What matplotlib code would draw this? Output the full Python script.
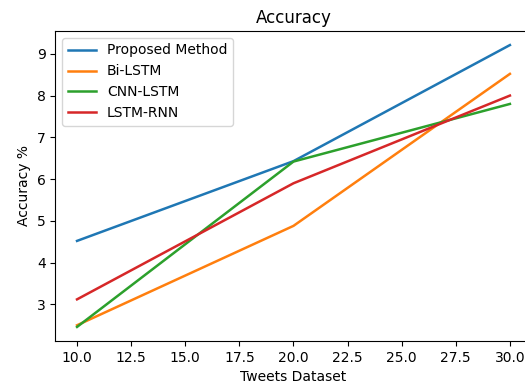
import matplotlib
matplotlib.use("Agg")
import matplotlib.pyplot as plt

# dataset sizes on the x axis
tweets = [10, 20, 30]

# accuracy per method
proposed = [4.52, 6.43, 9.21]
bi_lstm = [2.5, 4.88, 8.52]
cnn_lstm = [2.46, 6.42, 7.8]
lstm_rnn = [3.12, 5.9, 8.0]

labels = ["Proposed Method", "Bi-LSTM", "CNN-LSTM", "LSTM-RNN"]

fig = plt.figure(figsize=(5.25, 3.9), dpi=100)
# axes runs slightly past the right edge, like the cropped original
ax = fig.add_axes([0.1055, 0.1256, 0.907, 0.795])

ax.plot(tweets, proposed, label=labels[0], lw=1.8)
ax.plot(tweets, bi_lstm, label=labels[1], lw=1.8)
ax.plot(tweets, cnn_lstm, label=labels[2], lw=1.8)
ax.plot(tweets, lstm_rnn, label=labels[3], lw=1.8)

ax.set_title("Accuracy")
ax.set_xlabel("Tweets Dataset")
ax.set_ylabel("Accuracy %")
ax.legend(loc="upper left")

fig.savefig("out.png", dpi=100)
